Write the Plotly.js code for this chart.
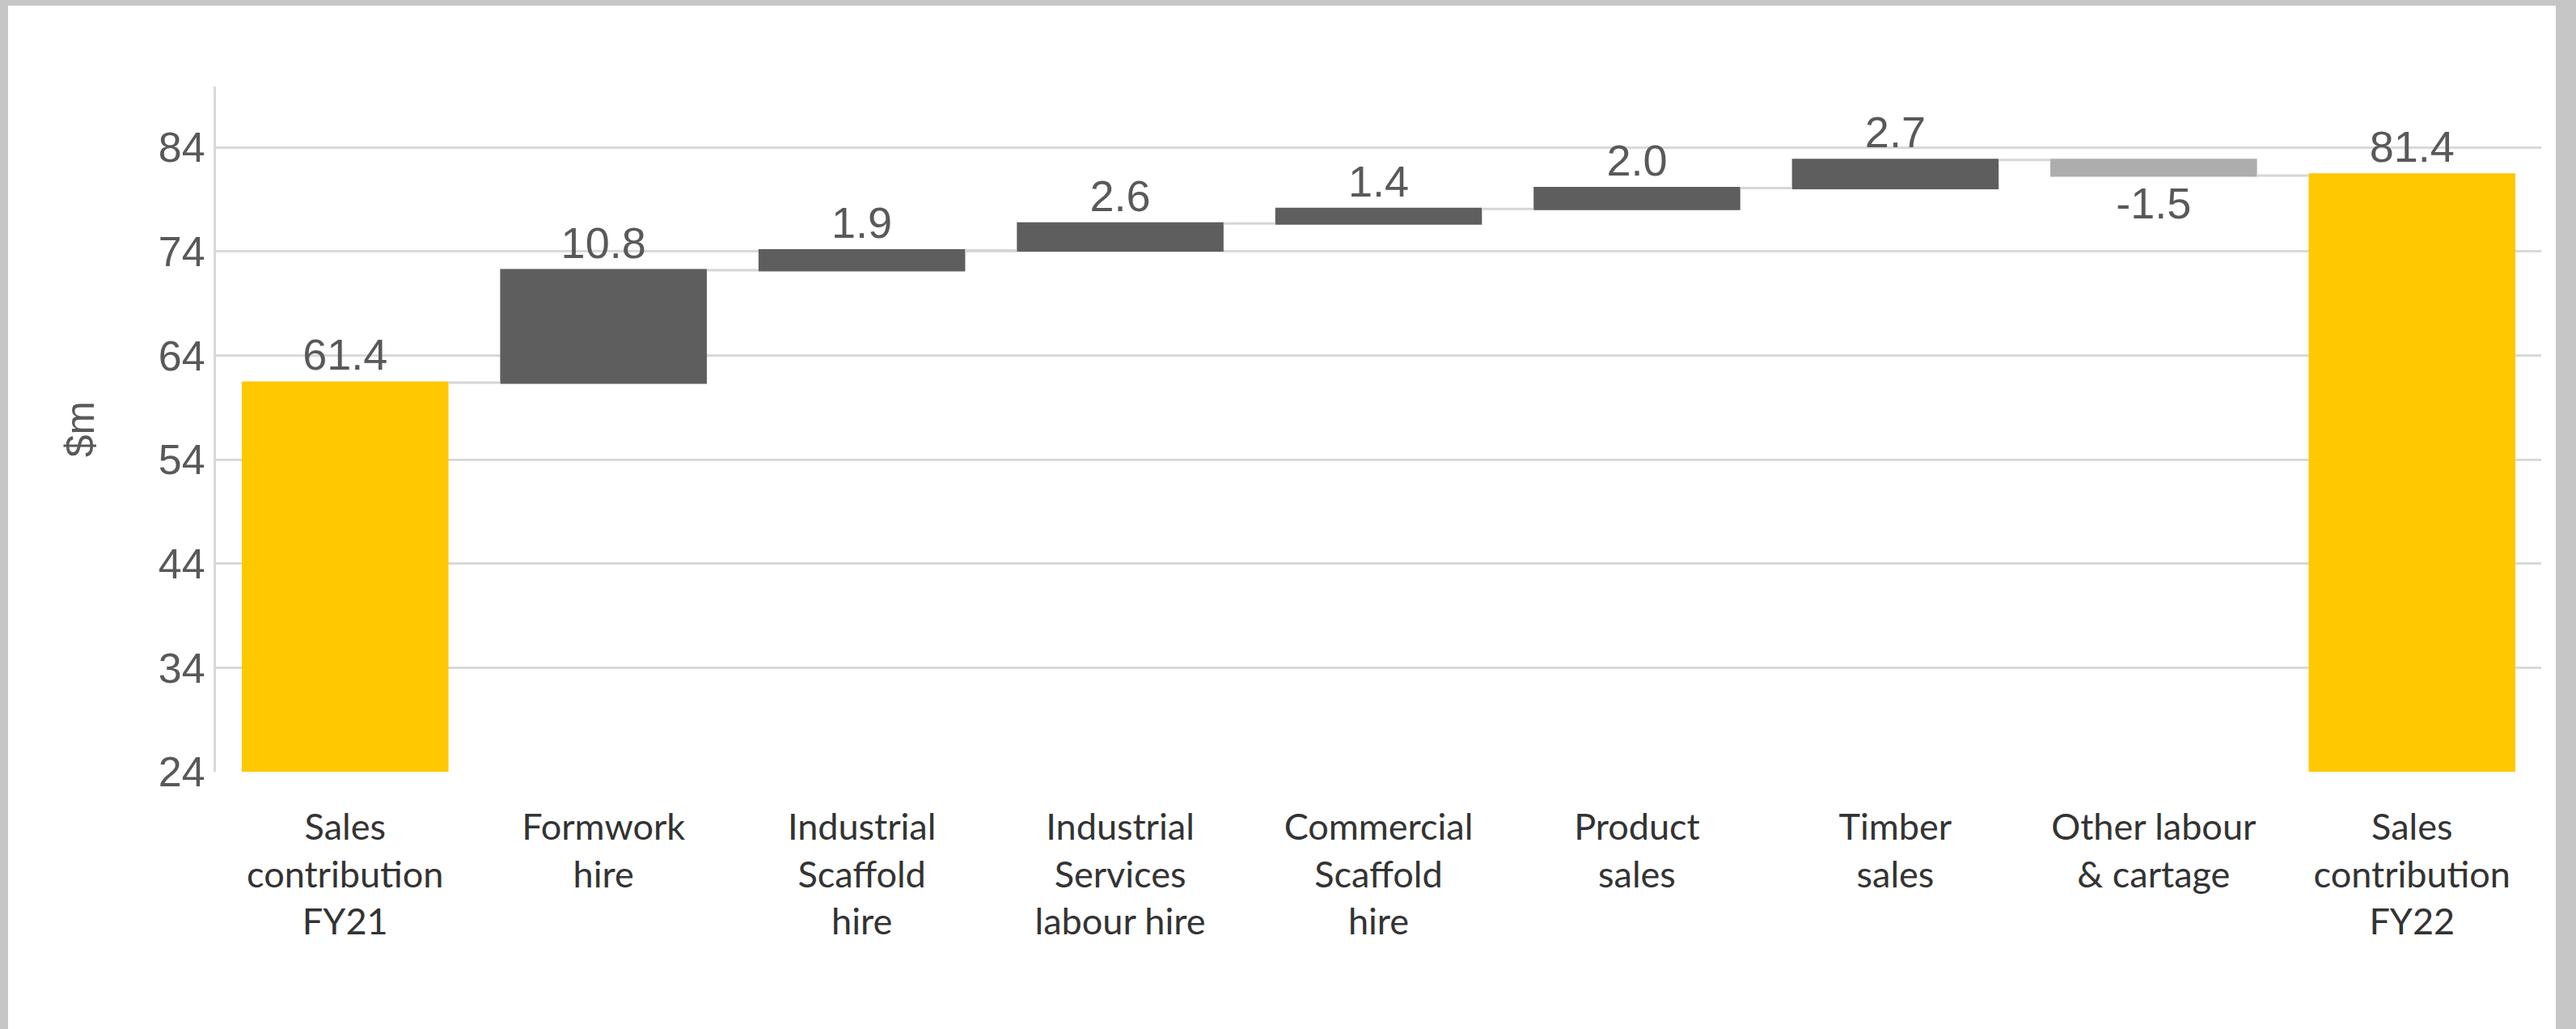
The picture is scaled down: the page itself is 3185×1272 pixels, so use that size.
<!DOCTYPE html>
<html>
<head>
<meta charset="utf-8">
<script src="https://cdn.plot.ly/plotly-3.0.1.min.js"></script>
<style>
  html, body { margin: 0; padding: 0; width: 3185px; height: 1272px; background: #c6c6c6; overflow: hidden; }
  #chart { position: absolute; left: 10px; top: 7px; width: 3150px; height: 1265px; background: #ffffff; }
</style>
</head>
<body>
<div id="chart"></div>
<script>
const categories = [
  "Sales<br>contribution<br>FY21",
  "Formwork<br>hire",
  "Industrial<br>Scaffold<br>hire",
  "Industrial<br>Services<br>labour hire",
  "Commercial<br>Scaffold<br>hire",
  "Product<br>sales",
  "Timber<br>sales",
  "Other labour<br>& cartage",
  "Sales<br>contribution<br>FY22"
];
const values = [61.4, 10.8, 1.9, 2.6, 1.4, 2.0, 2.7, -1.5, 81.4];
const measures = ["absolute", "relative", "relative", "relative", "relative", "relative", "relative", "relative", "absolute"];
const labels = ["61.4", "10.8", "1.9", "2.6", "1.4", "2.0", "2.7", "-1.5", "81.4"];
const yTicks = [24, 34, 44, 54, 64, 74, 84];

const trace = {
  type: "waterfall",
  x: categories,
  y: values,
  measure: measures,
  text: labels,
  textposition: "outside",
  constraintext: "none",
  cliponaxis: false,
  textfont: { family: "Liberation Sans, Arial, sans-serif", size: 54, color: "#595959" },
  increasing: { marker: { color: "#5e5e5e" } },
  decreasing: { marker: { color: "#adadad" } },
  totals: { marker: { color: "#ffc800" } },
  connector: { mode: "between", line: { color: "#d6d6d6", width: 3 } },
  hoverinfo: "none"
};

const layout = {
  width: 3150,
  height: 1265,
  paper_bgcolor: "#ffffff",
  plot_bgcolor: "#ffffff",
  showlegend: false,
  bargap: 0.343,
  margin: { l: 257, r: 18, t: 100, b: 318, pad: 0 },
  xaxis: {
    type: "category",
    showgrid: false,
    zeroline: false,
    showline: false,
    ticks: "",
    ticklabelstandoff: 38,
    tickfont: { family: "Lato, Poppins, sans-serif", size: 45, color: "#333333" },
    automargin: false
  },
  yaxis: {
    range: [24, 89.85],
    tickvals: yTicks,
    ticktext: yTicks.map(String),
    showgrid: true,
    gridcolor: "#d9d9d9",
    gridwidth: 3,
    zeroline: false,
    showline: true,
    linecolor: "#d9d9d9",
    linewidth: 3,
    ticks: "",
    ticklen: 0,
    tickfont: { family: "Liberation Sans, Arial, sans-serif", size: 52, color: "#595959" },
    title: { text: "$m", font: { family: "Liberation Sans, Arial, sans-serif", size: 50, color: "#595959" }, standoff: 64 },
    automargin: false
  }
};

Plotly.newPlot("chart", [trace], layout, { staticPlot: true, displayModeBar: false });
</script>
</body>
</html>
